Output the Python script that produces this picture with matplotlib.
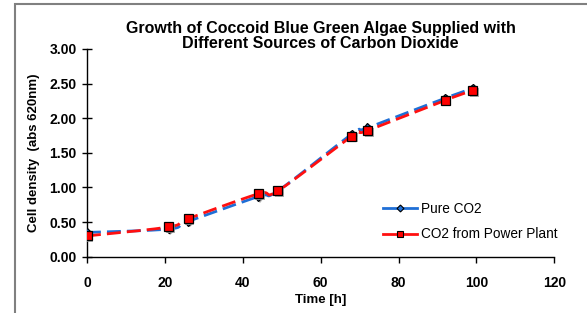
import numpy as np
import matplotlib.pyplot as plt
from matplotlib.patches import Rectangle
import matplotlib.patheffects as pe

plt.rcParams['font.family'] = ['Liberation Sans', 'DejaVu Sans']

# data
time_h = [0, 21, 26, 44, 49, 68, 72, 92, 99]
pure_co2 = [0.35, 0.40, 0.51, 0.87, 0.95, 1.77, 1.86, 2.29, 2.43]
power_plant = [0.30, 0.43, 0.55, 0.91, 0.95, 1.74, 1.82, 2.26, 2.40]

x_ticks = [0, 20, 40, 60, 80, 100, 120]
y_ticks = [0.0, 0.5, 1.0, 1.5, 2.0, 2.5, 3.0]


def smooth(x, y, n=30):
    # Catmull-Rom curve through the points, like Excel's smoothed line
    x = np.asarray(x, float)
    y = np.asarray(y, float)
    px = np.concatenate([[x[0]], x, [x[-1]]])
    py = np.concatenate([[y[0]], y, [y[-1]]])
    xs, ys = [], []
    t = np.linspace(0, 1, n)
    for i in range(1, len(px) - 2):
        for p, out in ((px, xs), (py, ys)):
            p0, p1, p2, p3 = p[i - 1], p[i], p[i + 1], p[i + 2]
            out.extend(0.5 * ((2 * p1) + (-p0 + p2) * t
                              + (2 * p0 - 5 * p1 + 4 * p2 - p3) * t ** 2
                              + (-p0 + 3 * p1 - 3 * p2 + p3) * t ** 3))
    return xs, ys


fig = plt.figure(figsize=(5.87, 3.13), dpi=100)
ax = fig.add_axes([0.1482, 0.1799, 0.7961, 0.6636])

# outer chart border (only top and left visible)
fig.patches.append(Rectangle((15 / 587, -0.2), 1.2, 1.2 - 4 / 313,
                             transform=fig.transFigure, fill=False,
                             edgecolor='#808080', linewidth=1.5))

shadow = [pe.SimplePatchShadow(offset=(1.2, -1.2), shadow_rgbFace='#9a9a9a', alpha=0.8), pe.Normal()]

series = [
    (pure_co2, '#1f6fd6', 'D', 4.5, 3.5, '#1f6fd6', 'Pure CO2'),
    (power_plant, '#ff1010', 's', 6.5, 5, '#ff0000', 'CO2 from Power Plant'),
]
for vals, col, mk, ms, lms, fc, lab in series:
    sx, sy = smooth(time_h, vals)
    ax.plot(sx, sy, color=col, lw=2.0, linestyle=(0, (5, 2.2)), zorder=2)
    ax.plot(time_h, vals, linestyle='none', marker=mk, markersize=ms,
            markerfacecolor=fc, markeredgecolor='black', markeredgewidth=0.9,
            zorder=3, path_effects=shadow)
    ax.plot([], [], color=col, lw=2.0, marker=mk, markersize=lms,
            markerfacecolor=fc, markeredgecolor='black', markeredgewidth=0.8, label=lab)

ax.set_xlim(0, 120)
ax.set_ylim(0, 3.0)
ax.set_xticks(x_ticks)
ax.set_yticks(y_ticks)
ax.set_yticklabels([f"{v:.2f}" for v in y_ticks])
ax.spines['top'].set_visible(False)
ax.spines['right'].set_visible(False)
ax.spines['left'].set_linewidth(1.0)
ax.spines['bottom'].set_linewidth(1.0)
ax.tick_params(axis='y', direction='inout', length=7, width=1.0, labelsize=10, pad=4)
ax.tick_params(axis='x', direction='out', length=4, width=1.0, labelsize=10, pad=10)
for t in ax.get_xticklabels() + ax.get_yticklabels():
    t.set_fontweight('bold')

ax.set_xlabel('Time [h]', fontsize=9.5, fontweight='bold', labelpad=3)
ax.set_ylabel('Cell density  (abs 620nm)', fontsize=9.5, fontweight='bold', labelpad=7)
ax.set_title('Growth of Coccoid Blue Green Algae Supplied with\nDifferent Sources of Carbon Dioxide',
             fontsize=11.5, fontweight='bold', y=1.0, pad=0.5, linespacing=1.05)

ax.legend(loc='lower left', bbox_to_anchor=(0.607, 0.015), frameon=False, fontsize=9.8,
          handlelength=2.5, handletextpad=0.3, labelspacing=0.85)

fig.savefig('out.png', dpi=100)
